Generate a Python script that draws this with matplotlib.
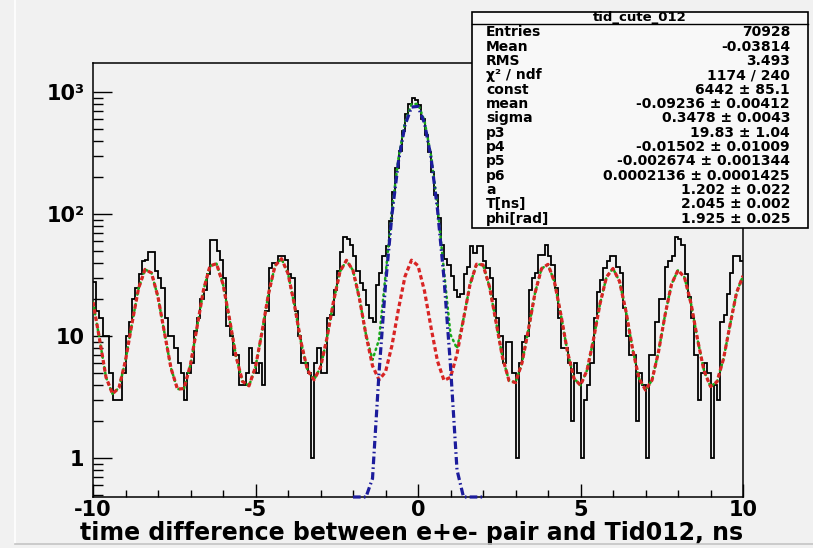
import numpy as np
import matplotlib.pyplot as plt
from matplotlib.lines import Line2D
from matplotlib.patches import Rectangle
from matplotlib.ticker import MultipleLocator, LogLocator, NullFormatter

plt.rcParams['font.family'] = ['DejaVu Sans']
plt.rcParams['font.weight'] = 'bold'
plt.rcParams['axes.unicode_minus'] = False

# tid_cute_012: 0.1 ns bins shown over [-10, 10]
x_lo, x_hi = -10.0, 10.0
counts = [
    28, 16, 14, 10, 10, 5, 3, 3, 3, 5,
    10, 13, 20, 25, 32, 41, 42, 49, 49, 34,
    30, 25, 14, 10, 10, 8, 6, 5, 3, 5,
    6, 11, 14, 20, 24, 32, 61, 61, 50, 42,
    30, 12, 10, 7, 7, 4, 4, 5, 8, 6,
    5, 6, 4, 16, 36, 40, 40, 45, 45, 42,
    32, 30, 16, 10, 6, 6, 5, 1, 6, 8,
    5, 5, 14, 15, 24, 34, 49, 65, 62, 56,
    45, 34, 27, 24, 18, 14, 13, 26, 33, 45,
    55, 87, 152, 237, 330, 480, 665, 805, 887, 868,
    780, 600, 445, 325, 222, 143, 92, 56, 43, 38,
    31, 24, 21, 22, 32, 37, 55, 48, 55, 55,
    41, 36, 30, 20, 14, 10, 6, 9, 9, 5,
    1, 6, 9, 10, 24, 30, 33, 46, 46, 56,
    45, 38, 25, 14, 8, 8, 6, 2, 6, 5,
    1, 3, 4, 6, 14, 23, 29, 36, 41, 45,
    45, 37, 33, 17, 10, 7, 7, 2, 5, 4,
    1, 7, 7, 13, 20, 20, 37, 41, 45, 65,
    62, 56, 32, 21, 14, 7, 3, 5, 6, 5,
    1, 4, 3, 13, 15, 22, 33, 45, 45, 41,
]

# oscillating background of the fit, one point every 0.2 ns on [-10, 10]
bkg = [
    19.0, 9.5, 4.6, 3.36, 3.77, 6.3, 12.7, 24.5, 35.2, 32.9,
    20.9, 10.6, 5.45, 3.67, 3.72, 5.84, 11.8, 23.9, 37.6, 39.2,
    26.7, 13.8, 6.84, 4.25, 3.91, 5.58, 10.8, 22.2, 37.7, 43.1,
    32.6, 17.9, 8.93, 5.25, 4.38, 5.54, 9.67, 19.2, 33.8, 41.8,
    34.5, 20.2, 10.2, 5.71, 4.38, 5.08, 8.4, 16.7, 30.8, 41.9,
    37.8, 23.4, 11.8, 6.23, 4.34, 4.59, 7.11, 13.8, 26.4, 38.8,
    38.4, 25.4, 13.1, 6.68, 4.32, 4.16, 6.04, 11.4, 22.5, 35.7,
    38.7, 27.7, 14.8, 7.42, 4.5, 3.95, 5.24, 9.38, 18.4, 30.5,
    35.8, 28.1, 15.9, 7.89, 4.5, 3.61, 4.35, 7.43, 14.8, 26.6,
    34.7, 30.3, 18.5, 9.42, 5.19, 3.86, 4.22, 6.51, 12.3, 22.6,
    31.2,
]

# gaussian peak of the fit, every 0.2 ns on [-2, 2]
g_lo, g_hi = -2.0, 2.0
gaus = [0.0002, 0.0045, 0.066, 0.68, 4.97, 26.3, 99.8, 272, 534, 753,
        763, 556, 291, 109, 29.7, 5.7, 0.80, 0.08, 0.006, 0.0003, 0.00001]

stat_title = 'tid_cute_012'
stat_names = ['Entries', 'Mean', 'RMS', 'χ² / ndf', 'const', 'mean', 'sigma',
              'p3', 'p4', 'p5', 'p6', 'a', 'T[ns]', 'phi[rad]']
stat_values = ['70928', '-0.03814', '3.493', '1174 / 240', '6442 ± 85.1',
               '-0.09236 ± 0.00412', '0.3478 ± 0.0043', '19.83 ± 1.04',
               '-0.01502 ± 0.01009', '-0.002674 ± 0.001344',
               '0.0002136 ± 0.0001425', '1.202 ± 0.022', '2.045 ± 0.002',
               '1.925 ± 0.025']

y_min, y_max = 0.48, 1730
bg = '#f1f1f1'

W, H = 813, 548
fig = plt.figure(figsize=(W / 100, H / 100), dpi=100)
fig.patch.set_facecolor(bg)
ax = fig.add_axes([93 / W, 51 / H, 650 / W, 434 / H])
ax.set_facecolor(bg)

edges = np.linspace(x_lo, x_hi, len(counts) + 1)
ax.stairs(counts, edges, color='black', lw=1.3, baseline=None, zorder=2)

xf = np.linspace(x_lo, x_hi, len(bkg))
xg = np.linspace(g_lo, g_hi, len(gaus))
total = np.array(bkg, dtype=float)
i0 = int(round((g_lo - x_lo) / (xf[1] - xf[0])))
total[i0:i0 + len(gaus)] += np.array(gaus)

ax.plot(xf, total, color='#18a818', lw=1.8, ls=(0, (0.6, 1.6)),
        dash_capstyle='round', zorder=3)
ax.plot(xf, bkg, color='#d82424', lw=2.3, ls=(0, (1.4, 0.9)), zorder=4)
# values under the frame are pinned to its lower edge, as ROOT does
ax.plot(xg, np.maximum(gaus, y_min), color='#1c1c9c', lw=2.3,
        ls=(0, (2.4, 1.0, 0.5, 1.0)), zorder=5, clip_on=False)

ax.set_xlim(x_lo, x_hi)
ax.set_yscale('log')
ax.set_ylim(y_min, y_max)

ax.xaxis.set_major_locator(MultipleLocator(5))
ax.xaxis.set_minor_locator(MultipleLocator(1))
ax.set_yticks([1, 10, 100, 1000], labels=['1', '10', '10²', '10³'])
ax.yaxis.set_minor_locator(LogLocator(base=10, subs=np.arange(2, 10), numticks=20))
ax.yaxis.set_minor_formatter(NullFormatter())

ax.tick_params(which='both', direction='in', top=False, right=False, width=1)
ax.tick_params(axis='x', which='major', length=9.5, labelsize=15, pad=2)
ax.tick_params(axis='x', which='minor', length=5)
ax.tick_params(axis='y', which='major', length=14, labelsize=15, pad=6)
ax.tick_params(axis='y', which='minor', length=7.5)
for s in ax.spines.values():
    s.set_linewidth(1.1)

ax.set_xlabel('time difference between e+e- pair and Tid012, ns',
              loc='right', fontsize=17, fontweight='bold', labelpad=1)

# statistics box
bx0, by0, bx1, by1 = 472, 12, 808, 228
fig.add_artist(Rectangle((bx0 / W, 1 - by1 / H), (bx1 - bx0) / W, (by1 - by0) / H,
                         transform=fig.transFigure, facecolor='#f8f8f8',
                         edgecolor='black', lw=1.2, zorder=10))
fig.add_artist(Line2D([bx0 / W, bx1 / W], [1 - 23.5 / H, 1 - 23.5 / H],
                      color='black', lw=1, zorder=11))
fig.text((bx0 + bx1) / 2 / W, 1 - 17 / H, stat_title, ha='center', va='center',
         fontsize=9.5, zorder=12)
for k, (name, val) in enumerate(zip(stat_names, stat_values)):
    y = 1 - (32.5 + 14.33 * k) / H
    fig.text(486 / W, y, name, ha='left', va='center', fontsize=10, zorder=12)
    fig.text(790 / W, y, val, ha='right', va='center', fontsize=10, zorder=12)

# canvas bevel
fig.add_artist(Line2D([15 / W, 15 / W], [1 - 543 / H, 1], color='white', lw=1.2))
fig.add_artist(Line2D([15 / W, 1], [1 - 544 / H, 1 - 544 / H], color='#c4c4c4', lw=1.2))

fig.savefig('out.png', dpi=100, facecolor=bg)
